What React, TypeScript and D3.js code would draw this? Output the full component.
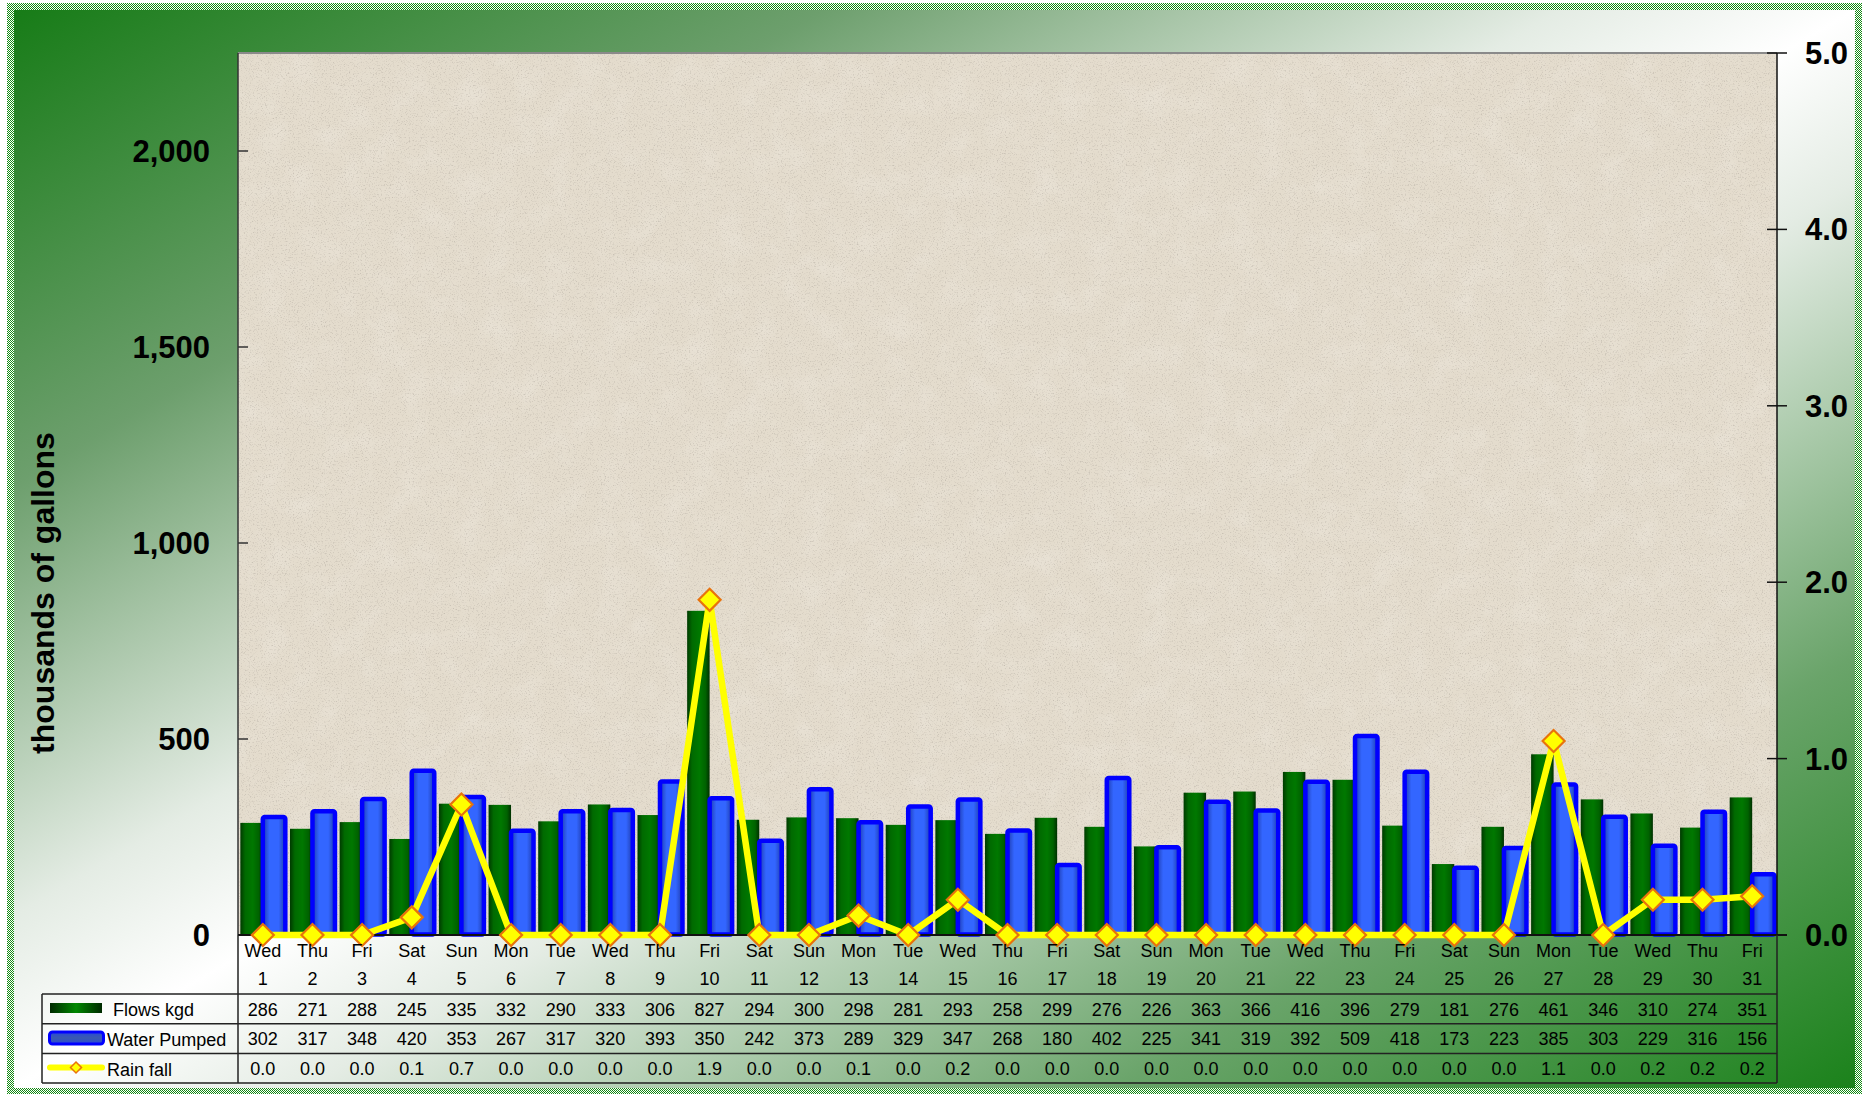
import React from "react";
import * as d3 from "d3";

const days = ["Wed","Thu","Fri","Sat","Sun","Mon","Tue","Wed","Thu","Fri","Sat","Sun","Mon","Tue","Wed","Thu","Fri","Sat","Sun","Mon","Tue","Wed","Thu","Fri","Sat","Sun","Mon","Tue","Wed","Thu","Fri"];
const dates = ["1","2","3","4","5","6","7","8","9","10","11","12","13","14","15","16","17","18","19","20","21","22","23","24","25","26","27","28","29","30","31"];
const flows = [286,271,288,245,335,332,290,333,306,827,294,300,298,281,293,258,299,276,226,363,366,416,396,279,181,276,461,346,310,274,351];
const pumped = [302,317,348,420,353,267,317,320,393,350,242,373,289,329,347,268,180,402,225,341,319,392,509,418,173,223,385,303,229,316,156];
const rain = [0,0,0,0.1,0.74,0,0,0,0,1.9,0,0,0.11,0,0.2,0,0,0,0,0,0,0,0,0,0,0,1.1,0,0.2,0.2,0.22];
const leftTicks = [0,500,1000,1500,2000];
const rightTicks = [0,1,2,3,4,5];
const seriesNames = ["Flows kgd","Water Pumped","Rain fall"];

const W = 1866, H = 1094;
const PL = 238, PR = 1777, PT = 53, PB = 935;
const FONT = "'Liberation Sans', Arial, Helvetica, sans-serif";

export default function App() {
  const x = d3.scaleBand<string>().domain(dates).range([PL, PR]).paddingInner(0.094).paddingOuter(0.047);
  const x1 = d3.scaleBand<string>().domain(["flows","pumped"]).range([0, x.bandwidth()]);
  const yL = d3.scaleLinear().domain([0, 2250]).range([PB, PT]);
  const yR = d3.scaleLinear().domain([0, 5]).range([PB, PT]);
  const cx = (i: number) => (x(dates[i]) as number) + x.bandwidth() / 2;
  const line = d3.line<number>().x((_, i) => cx(i)).y((d) => yR(d));
  const fmtL = d3.format(",");
  const fmtR = d3.format(".1f");

  const rowTop = 994, rowH = 29.7;
  const rowLines = [0,1,2,3].map((i) => rowTop + i * rowH);
  const rows = [flows.map(String), pumped.map(String), rain.map((r) => fmtR(r))];

  const diamond = (r: number) => `M0,${-r}L${r},0L0,${r}L${-r},0Z`;

  return (
    <div style={{ position: "fixed", left: 0, top: 0, width: W, height: H, overflow: "hidden", background: "#fff" }}>
      <svg width={W} height={H} style={{ display: "block", fontFamily: FONT }}>
        <defs>
          <linearGradient id="bg" x1="0" y1="0" x2="1" y2="1">
            <stop offset="0" stopColor="#177c17" />
            <stop offset="0.22" stopColor="#6d9f6d" />
            <stop offset="0.42" stopColor="#e4ece4" />
            <stop offset="0.5" stopColor="#ffffff" />
            <stop offset="0.58" stopColor="#e4ece4" />
            <stop offset="0.8" stopColor="#6aa46a" />
            <stop offset="1" stopColor="#1b821b" />
          </linearGradient>
          <pattern id="checker" width="2" height="2" patternUnits="userSpaceOnUse">
            <rect width="2" height="2" fill="#ffffff" />
            <rect width="1" height="1" fill="#138a13" />
            <rect x="1" y="1" width="1" height="1" fill="#138a13" />
          </pattern>
          <linearGradient id="gGreen" x1="0" y1="0" x2="1" y2="0">
            <stop offset="0" stopColor="#003a00" />
            <stop offset="0.22" stopColor="#006a00" />
            <stop offset="0.55" stopColor="#007800" />
            <stop offset="0.82" stopColor="#006200" />
            <stop offset="1" stopColor="#003000" />
          </linearGradient>
          <linearGradient id="gGreenLeg" x1="0" y1="0" x2="1" y2="0">
            <stop offset="0" stopColor="#002a00" />
            <stop offset="0.5" stopColor="#008800" />
            <stop offset="1" stopColor="#002a00" />
          </linearGradient>
          <linearGradient id="gBlue" x1="0" y1="0" x2="1" y2="0">
            <stop offset="0" stopColor="#1e3cae" />
            <stop offset="0.3" stopColor="#3366ff" />
            <stop offset="0.7" stopColor="#3366ff" />
            <stop offset="1" stopColor="#1e3cae" />
          </linearGradient>
          <linearGradient id="gBlueLeg" x1="0" y1="0" x2="0" y2="1">
            <stop offset="0" stopColor="#2a4ad8" />
            <stop offset="0.5" stopColor="#3a5ab0" />
            <stop offset="1" stopColor="#2a4ad8" />
          </linearGradient>
          <filter id="paper" x="0" y="0" width="100%" height="100%">
            <feTurbulence type="fractalNoise" baseFrequency="0.75" numOctaves="2" seed="7" result="n" />
            <feColorMatrix in="n" type="matrix" values="0 0 0 0 0.42  0 0 0 0 0.38  0 0 0 0 0.33  2.6 0 0 0 -1.4" />
          </filter>
          <filter id="mottle" x="0" y="0" width="100%" height="100%">
            <feTurbulence type="fractalNoise" baseFrequency="0.035" numOctaves="3" seed="2" result="n" />
            <feColorMatrix in="n" type="matrix" values="0 0 0 0 1  0 0 0 0 1  0 0 0 0 1  0.6 0 0 0 -0.25" />
          </filter>
        </defs>

        {/* background */}
        <rect x={14} y={10} width={1841} height={1078} fill="url(#bg)" />
        <rect x={10.5} y={6.5} width={1848} height={1085} fill="none" stroke="url(#checker)" strokeWidth={7} />

        {/* plot area */}
        <rect x={PL} y={PT} width={PR - PL} height={PB - PT} fill="#e4dccd" />
        <rect x={PL} y={PT} width={PR - PL} height={PB - PT} filter="url(#mottle)" opacity={0.5} />
        <rect x={PL} y={PT} width={PR - PL} height={PB - PT} filter="url(#paper)" opacity={0.6} />
        <line x1={PL} x2={PR} y1={PT} y2={PT} stroke="#8a8a8a" strokeWidth={2} />

        {/* bars */}
        {flows.map((v, i) => {
          const bx = (x(dates[i]) as number) + (x1("flows") as number);
          return <rect key={"f" + i} x={bx} y={yL(v)} width={x1.bandwidth()} height={PB - yL(v)} fill="url(#gGreen)" />;
        })}
        {pumped.map((v, i) => {
          const bx = (x(dates[i]) as number) + (x1("pumped") as number);
          return (
            <g key={"p" + i}>
              <rect x={bx} y={yL(v) + 0.5} width={x1.bandwidth()} height={PB - yL(v) - 1} rx={2} fill="url(#gBlue)" stroke="#0000ff" strokeWidth={4.5} />
            </g>
          );
        })}

        {/* axes */}
        <line x1={PL} x2={PL} y1={PT} y2={PB} stroke="#333" strokeWidth={1.5} />
        <line x1={PR} x2={PR} y1={PT} y2={PB} stroke="#111" strokeWidth={1.5} />
        {leftTicks.map((t) => (
          <g key={"lt" + t}>
            <line x1={PL} x2={PL + 10} y1={yL(t)} y2={yL(t)} stroke="#333" strokeWidth={1.5} />
            <text x={210} y={yL(t) + 11} textAnchor="end" fontSize={31} fontWeight="bold" fill="#000">{fmtL(t)}</text>
          </g>
        ))}
        {rightTicks.map((t) => (
          <g key={"rt" + t}>
            <line x1={PR - 10} x2={PR + 10} y1={yR(t)} y2={yR(t)} stroke="#111" strokeWidth={1.5} />
            <text x={1805} y={yR(t) + 11} textAnchor="start" fontSize={31} fontWeight="bold" fill="#000">{fmtR(t)}</text>
          </g>
        ))}
        <line x1={PL} x2={PR + 10} y1={PB} y2={PB} stroke="#111" strokeWidth={2} />

        {/* rain line */}
        <path d={line(rain) || ""} fill="none" stroke="#ffff00" strokeWidth={6.5} strokeLinejoin="round" />
        {rain.map((r, i) => (
          <path key={"r" + i} d={diamond(11)} transform={`translate(${cx(i)},${yR(r)})`} fill="#ffff00" stroke="#e8730c" strokeWidth={2.2} />
        ))}

        {/* y title */}
        <text transform="translate(54,593) rotate(-90)" textAnchor="middle" fontSize={32} fontWeight="bold" fill="#000">thousands of gallons</text>

        {/* category labels */}
        {days.map((d, i) => (
          <g key={"c" + i}>
            <text x={cx(i)} y={957} textAnchor="middle" fontSize={18} fill="#000">{d}</text>
            <text x={cx(i)} y={985} textAnchor="middle" fontSize={18} fill="#000">{dates[i]}</text>
          </g>
        ))}

        {/* data table */}
        {rowLines.map((y, i) => (
          <line key={"hl" + i} x1={42} x2={PR} y1={y} y2={y} stroke="#222" strokeWidth={1.5} />
        ))}
        <line x1={42} x2={42} y1={rowLines[0]} y2={rowLines[3]} stroke="#222" strokeWidth={1.5} />
        <line x1={PL} x2={PL} y1={PB} y2={rowLines[3]} stroke="#222" strokeWidth={1.5} />
        <line x1={PR} x2={PR} y1={PB} y2={rowLines[3]} stroke="#222" strokeWidth={1.5} />
        {rows.map((row, ri) =>
          row.map((s, i) => (
            <text key={`t${ri}-${i}`} x={cx(i)} y={rowTop + ri * rowH + 21.5} textAnchor="middle" fontSize={18} fill="#000">{s}</text>
          ))
        )}

        {/* legend keys */}
        <rect x={50} y={1003} width={52} height={10} fill="url(#gGreenLeg)" />
        <text x={113} y={1015.5} fontSize={18} fill="#000">{seriesNames[0]}</text>
        <rect x={49.5} y={1032} width={54} height={12} rx={3} fill="url(#gBlueLeg)" stroke="#0000ff" strokeWidth={3} />
        <text x={107} y={1045.5} fontSize={18} fill="#000">{seriesNames[1]}</text>
        <line x1={50} x2={102} y1={1067.5} y2={1067.5} stroke="#ffff00" strokeWidth={6} strokeLinecap="round" />
        <path d={diamond(5.5)} transform="translate(76,1067.5)" fill="#ffff00" stroke="#e8730c" strokeWidth={1.5} />
        <text x={107} y={1075.5} fontSize={18} fill="#000">{seriesNames[2]}</text>
      </svg>
    </div>
  );
}
